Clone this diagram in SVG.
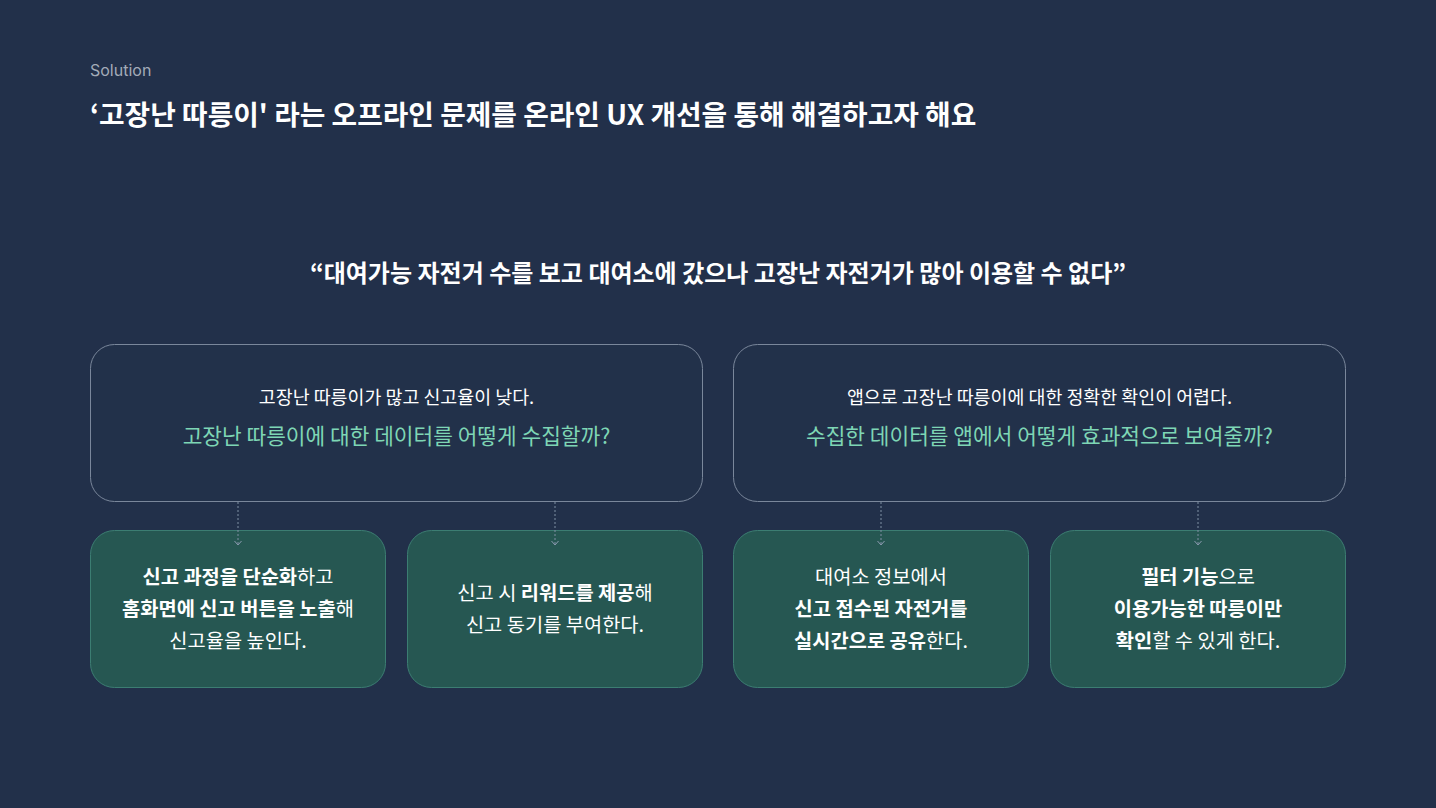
<svg xmlns="http://www.w3.org/2000/svg" width="1436" height="808" viewBox="0 0 1436 808">
<defs>
<style>
text{font-family:"Inter","Noto Sans CJK KR","Noto Sans",sans-serif;}
.kr{font-family:"Noto Sans CJK KR","Noto Sans",sans-serif;}
.top{fill:#22314A;stroke:#7A879B;stroke-width:1;}
.bot{fill:#265752;stroke:#3C7D72;stroke-width:1;}
.t1{fill:#FFFFFF;font-size:18.4px;text-anchor:middle;}
.t2{fill:#7ED6B5;font-size:21.4px;text-anchor:middle;}
.b{fill:#FFFFFF;font-size:19.8px;text-anchor:middle;}
.bb{font-weight:700;}
.con{stroke:#7F8FA3;stroke-width:1;stroke-dasharray:2 2;fill:none;}
</style>
<marker id="chev" viewBox="0 0 6 8" refX="5" refY="4" markerWidth="6" markerHeight="8" orient="auto" markerUnits="userSpaceOnUse">
<path d="M1,0.5 L5,4 L1,7.5" fill="none" stroke="#8A9AAE" stroke-width="1"/>
</marker>
</defs>
<rect width="1436" height="808" fill="#22304A"/>
<text x="90" y="76" font-size="16" fill="#A3ABB8" style="font-family:'Inter','Noto Sans',sans-serif">Solution</text>
<text class="kr" x="90" y="125" font-size="27.8" font-weight="700" fill="#FFFFFF">‘고장난 따릉이' 라는 오프라인 문제를 온라인 UX 개선을 통해 해결하고자 해요</text>
<text class="kr" x="718" y="282" font-size="24" font-weight="700" fill="#FFFFFF" text-anchor="middle">“대여가능 자전거 수를 보고 대여소에 갔으나 고장난 자전거가 많아 이용할 수 없다”</text>

<g id="problem1">
<rect class="top" x="90.5" y="344.5" width="612" height="157" rx="24"/>
<text class="t1 kr" x="396.5" y="404">고장난 따릉이가 많고 신고율이 낮다.</text>
<text class="t2 kr" x="396.5" y="444">고장난 따릉이에 대한 데이터를 어떻게 수집할까?</text>
</g>
<g id="problem2">
<rect class="top" x="733.5" y="344.5" width="612" height="157" rx="24"/>
<text class="t1 kr" x="1039.5" y="404">앱으로 고장난 따릉이에 대한 정확한 확인이 어렵다.</text>
<text class="t2 kr" x="1039.5" y="444">수집한 데이터를 앱에서 어떻게 효과적으로 보여줄까?</text>
</g>

<g id="solution1">
<rect class="bot" x="90.5" y="530.5" width="295" height="157" rx="24"/>
<text class="b kr" x="238" y="584"><tspan class="bb">신고 과정을 단순화</tspan>하고</text>
<text class="b kr" x="238" y="616"><tspan class="bb">홈화면에 신고 버튼을 노출</tspan>해</text>
<text class="b kr" x="238" y="648">신고율을 높인다.</text>
</g>
<g id="solution2">
<rect class="bot" x="407.5" y="530.5" width="295" height="157" rx="24"/>
<text class="b kr" x="555" y="600">신고 시 <tspan class="bb">리워드를 제공</tspan>해</text>
<text class="b kr" x="555" y="632">신고 동기를 부여한다.</text>
</g>
<g id="solution3">
<rect class="bot" x="733.5" y="530.5" width="295" height="157" rx="24"/>
<text class="b kr" x="881" y="584">대여소 정보에서</text>
<text class="b kr bb" x="881" y="616">신고 접수된 자전거를</text>
<text class="b kr" x="881" y="648"><tspan class="bb">실시간으로 공유</tspan>한다.</text>
</g>
<g id="solution4">
<rect class="bot" x="1050.5" y="530.5" width="295" height="157" rx="24"/>
<text class="b kr" x="1198" y="584"><tspan class="bb">필터 기능</tspan>으로</text>
<text class="b kr bb" x="1198" y="616">이용가능한 따릉이만</text>
<text class="b kr" x="1198" y="648"><tspan class="bb">확인</tspan>할 수 있게 한다.</text>
</g>

<g id="connectors">
<line class="con" x1="238" y1="502" x2="238" y2="545" marker-end="url(#chev)"/>
<line class="con" x1="555" y1="502" x2="555" y2="545" marker-end="url(#chev)"/>
<line class="con" x1="881" y1="502" x2="881" y2="545" marker-end="url(#chev)"/>
<line class="con" x1="1198" y1="502" x2="1198" y2="545" marker-end="url(#chev)"/>
</g>
</svg>
